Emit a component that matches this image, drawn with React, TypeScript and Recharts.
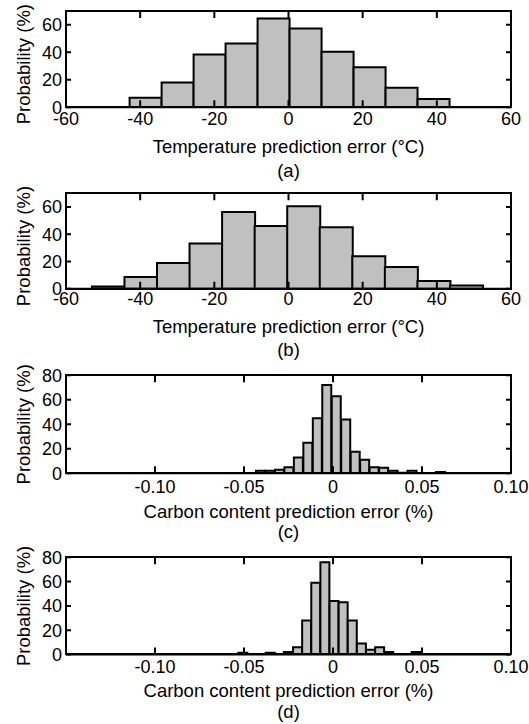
import React from 'react';
import { ComposedChart, Bar, XAxis, YAxis, Label } from 'recharts';

const FONT = '"Liberation Sans", Arial, Helvetica, sans-serif';

// ---- data ----
const tempBinsA = [-38.54, -29.91, -21.28, -12.66, -4.03, 4.6, 13.23, 21.86, 30.48, 39.11];
const probA = [7, 18, 38.4, 46.4, 64.6, 57.3, 40.3, 29.1, 14.3, 6.1];

const tempBinsB = [-48.63, -39.85, -31.07, -22.3, -13.52, -4.74, 4.04, 12.81, 21.59, 30.37, 39.15, 47.93];
const probB = [1.7, 8.6, 18.9, 33.1, 56.3, 46, 60.5, 45, 23.8, 15.9, 5.6, 2.4];

const carbonBinsC = [
  -0.0406, -0.03528, -0.02996, -0.02464, -0.01932, -0.014, -0.00868, -0.00336, 0.00196, 0.00728,
  0.0126, 0.01792, 0.02324, 0.02856, 0.03388, 0.0392, 0.04452, 0.04984, 0.05516, 0.06048,
];
const probC = [2, 2, 3, 5, 13, 25, 45, 72, 63, 44, 17.5, 11, 5, 4.5, 2, 0.5, 2, 0, 0, 1];

const carbonBinsD = [
  -0.05064, -0.04551, -0.04039, -0.03526, -0.03014, -0.02502, -0.01989, -0.01477, -0.00964, -0.00452,
  0.00061, 0.00573, 0.01086, 0.01598, 0.0211, 0.02623, 0.03135, 0.03648, 0.0416, 0.04673, 0.05185,
  0.05697, 0.0621,
];
const probD = [1.5, 0, 0, 1.5, 0.5, 2, 6, 28, 59, 76, 44, 43, 28, 9, 4, 6, 2, 0, 0, 2, 0, 0, 0.5];

const tempTicks = [-60, -40, -20, 0, 20, 40, 60];
const carbonTicks = [-0.1, -0.05, 0, 0.05, 0.1];
const carbonTickLabels = ['-0.10', '-0.05', '0', '0.05', '0.10'];
const probTicksTemp = [0, 20, 40, 60];
const probTicksCarbon = [0, 20, 40, 60, 80];

const tempTitle = 'Temperature prediction error (°C)';
const carbonTitle = 'Carbon content prediction error (%)';
const yTitle = 'Probability (%)';
const panelTags = ['(a)', '(b)', '(c)', '(d)'];

type Layout = {
  top: number;
  height: number;
  plotTop: number;
  plotBottom: number;
  tm: number;
  titleDy: number;
  tagDy: number;
  yLabelShift: number;
};

type PanelProps = {
  bins: number[];
  probs: number[];
  xDomain: [number, number];
  xTicks: number[];
  xFmt: (v: number) => string;
  yDomain: [number, number];
  yTicks: number[];
  title: string;
  tag: string;
  layout: Layout;
};

const CHART_W = 529;
const PLOT_LEFT = 66;
const RIGHT_MARGIN = 18;
const PLOT_RIGHT = CHART_W - RIGHT_MARGIN;
const TICK_FONT = 18;
const TITLE_SIZE = 18.5;
const X_TICK_LEN = 7;
const Y_TICK_LEN = 5;
const lineStyle = { stroke: '#000', strokeWidth: 2 };

function Panel(p: PanelProps) {
  const data = p.bins.map((x, i) => ({ x, p: p.probs[i] }));
  const L = p.layout;
  const mt = L.plotTop - L.top;
  const xAxisH = L.top + L.height - L.plotBottom;
  const pTop = L.plotTop - L.top;
  const pBottom = L.plotBottom - L.top;

  const XTick = (props: any) => {
    const { x, y, payload } = props;
    const d = `M${x},${pBottom}V${pBottom - X_TICK_LEN}M${x},${pTop}V${pTop + X_TICK_LEN}`;
    return (
      <g>
        <path d={d} stroke="#000" strokeWidth={2} fill="none" />
        <text x={x} y={y} dy="0.71em" textAnchor="middle" fontSize={TICK_FONT} fontFamily={FONT} fill="#000">
          {p.xFmt(payload.value)}
        </text>
      </g>
    );
  };

  const YTick = (props: any) => {
    const { x, y, payload } = props;
    const d = `M${PLOT_LEFT},${y}H${PLOT_LEFT + Y_TICK_LEN}M${PLOT_RIGHT},${y}H${PLOT_RIGHT - Y_TICK_LEN}`;
    return (
      <g>
        <path d={d} stroke="#000" strokeWidth={2} fill="none" />
        <text x={x} y={y} dy="0.355em" textAnchor="end" fontSize={TICK_FONT} fontFamily={FONT} fill="#000">
          {String(payload.value)}
        </text>
      </g>
    );
  };

  const renderYTitle = (props: any) => {
    const vb = props.viewBox || {};
    const cy = vb.y + vb.height / 2 + L.yLabelShift;
    const cx = 24;
    return (
      <text
        x={cx}
        y={cy}
        transform={`rotate(-90, ${cx}, ${cy})`}
        textAnchor="middle"
        dy="0.35em"
        fontSize={TITLE_SIZE}
        fontFamily={FONT}
        fill="#000"
      >
        {yTitle}
      </text>
    );
  };

  const renderXTitle = (props: any) => {
    const vb = props.viewBox || {};
    const cx = vb.x + vb.width / 2;
    return (
      <g>
        <text x={cx} y={vb.y + L.titleDy} textAnchor="middle" dy="0.35em" fontSize={TITLE_SIZE} fontFamily={FONT} fill="#000">
          {p.title}
        </text>
        <text x={cx} y={vb.y + L.tagDy} textAnchor="middle" dy="0.35em" fontSize={TITLE_SIZE} fontFamily={FONT} fill="#000">
          {p.tag}
        </text>
      </g>
    );
  };

  return (
    <div style={{ position: 'absolute', left: 0, top: L.top, width: CHART_W, height: L.height }}>
      <ComposedChart
        width={CHART_W}
        height={L.height}
        data={data}
        margin={{ top: mt, right: RIGHT_MARGIN, bottom: 0, left: 0 }}
        barCategoryGap={0}
        barGap={0}
      >
        <XAxis
          xAxisId="bottom"
          dataKey="x"
          type="number"
          domain={p.xDomain}
          ticks={p.xTicks}
          interval={0}
          allowDataOverflow
          orientation="bottom"
          height={xAxisH}
          tickSize={0}
          tickMargin={L.tm}
          axisLine={lineStyle}
          tickLine={false}
          tick={XTick}
        >
          <Label content={renderXTitle} />
        </XAxis>
        <YAxis
          yAxisId="left"
          type="number"
          domain={p.yDomain}
          ticks={p.yTicks}
          interval={0}
          allowDataOverflow
          orientation="left"
          width={PLOT_LEFT}
          tickSize={0}
          tickMargin={4}
          axisLine={lineStyle}
          tickLine={false}
          tick={YTick}
        >
          <Label content={renderYTitle} />
        </YAxis>
        <Bar
          dataKey="p"
          xAxisId="bottom"
          yAxisId="left"
          fill="#c0c0c0"
          stroke="#000"
          strokeWidth={2}
          isAnimationActive={false}
        />
      </ComposedChart>
      {/* plot frame (box) */}
      <div
        style={{
          position: 'absolute',
          left: PLOT_LEFT - 1,
          top: pTop - 1,
          width: PLOT_RIGHT - PLOT_LEFT + 2,
          height: pBottom - pTop + 2,
          border: '2px solid #000',
          boxSizing: 'border-box',
          pointerEvents: 'none',
        }}
      />
    </div>
  );
}

const tempFmt = (v: number) => String(v);
const carbonFmt = (v: number) => {
  const i = carbonTicks.findIndex((t) => Math.abs(t - v) < 1e-9);
  return i >= 0 ? carbonTickLabels[i] : String(v);
};

export default function App() {
  return (
    <div style={{ position: 'absolute', left: 0, top: 0, width: 529, height: 724, background: '#fff' }}>
      <Panel
        bins={tempBinsA}
        probs={probA}
        xDomain={[-60, 60]}
        xTicks={tempTicks}
        xFmt={tempFmt}
        yDomain={[0, 70]}
        yTicks={probTicksTemp}
        title={tempTitle}
        tag={panelTags[0]}
        layout={{ top: 0, height: 185, plotTop: 11, plotBottom: 107.3, tm: 5, titleDy: 39.7, tagDy: 63.7, yLabelShift: 5 }}
      />
      <Panel
        bins={tempBinsB}
        probs={probB}
        xDomain={[-60, 60]}
        xTicks={tempTicks}
        xFmt={tempFmt}
        yDomain={[0, 70]}
        yTicks={probTicksTemp}
        title={tempTitle}
        tag={panelTags[1]}
        layout={{ top: 172, height: 192, plotTop: 193.3, plotBottom: 288.7, tm: 4, titleDy: 38.3, tagDy: 61.3, yLabelShift: 5 }}
      />
      <Panel
        bins={carbonBinsC}
        probs={probC}
        xDomain={[-0.15, 0.1]}
        xTicks={carbonTicks}
        xFmt={carbonFmt}
        yDomain={[0, 80]}
        yTicks={probTicksCarbon}
        title={carbonTitle}
        tag={panelTags[2]}
        layout={{ top: 352, height: 192, plotTop: 375.3, plotBottom: 473.3, tm: 6.5, titleDy: 38.4, tagDy: 58.4, yLabelShift: 0 }}
      />
      <Panel
        bins={carbonBinsD}
        probs={probD}
        xDomain={[-0.15, 0.1]}
        xTicks={carbonTicks}
        xFmt={carbonFmt}
        yDomain={[0, 80]}
        yTicks={probTicksCarbon}
        title={carbonTitle}
        tag={panelTags[3]}
        layout={{ top: 534, height: 190, plotTop: 557.3, plotBottom: 654.5, tm: 5.5, titleDy: 36.2, tagDy: 57.2, yLabelShift: 0 }}
      />
    </div>
  );
}
